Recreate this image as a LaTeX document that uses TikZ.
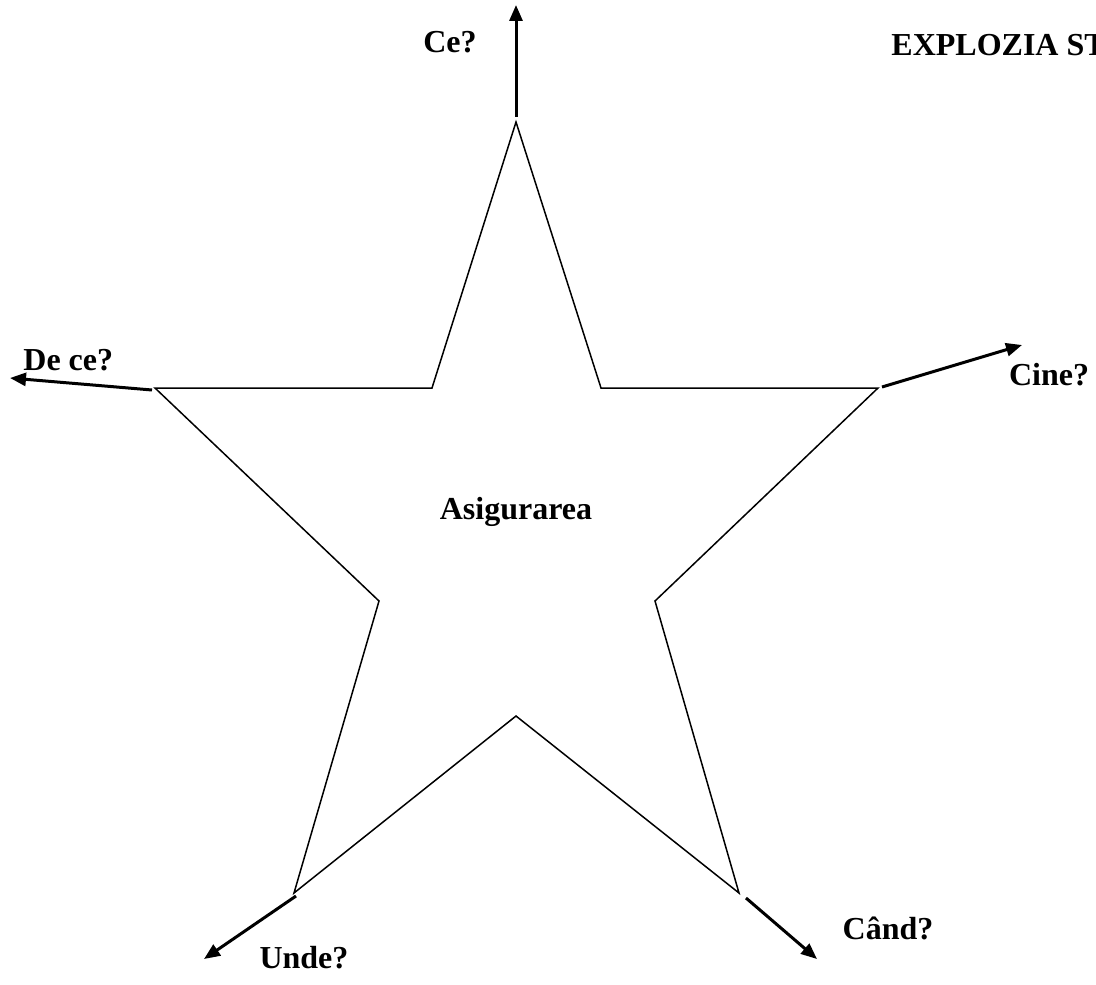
\documentclass[tikz,border=0pt]{standalone}
\usepackage{fontspec}
\setmainfont{Liberation Serif}
\usetikzlibrary{arrows.meta}
\begin{document}
\begin{tikzpicture}[x=0.5pt,y=-0.5pt,
  lbl/.style={font=\fontsize{16}{19}\selectfont\bfseries, inner sep=0pt},
  starline/.style={line width=0.75pt, line join=miter},
  ray/.style={line width=1.5pt, -{Triangle[length=8pt,width=6.5pt]}}]
\useasboundingbox (0,0) rectangle (1096,984);
% star vertices
\coordinate (T) at (516,122);
\coordinate (IR) at (601,388);
\coordinate (R) at (878,388);
\coordinate (LIR) at (655,601);
\coordinate (BR) at (739,893);
\coordinate (B) at (516,716);
\coordinate (BL) at (294,893);
\coordinate (LIL) at (379,601);
\coordinate (L) at (155,388);
\coordinate (IL) at (432,388);
\draw[starline] (T) -- (IR) -- (R) -- (LIR) -- (BR) -- (B) -- (BL) -- (LIL) -- (L) -- (IL) -- cycle;
% ray start points and ends
\coordinate (sT) at (516,117);
\coordinate (eT) at (516,5);
\coordinate (sR) at (882,387);
\coordinate (eR) at (1022,345);
\coordinate (sL) at (152,390);
\coordinate (eL) at (10,378);
\coordinate (sBL) at (296,896);
\coordinate (eBL) at (204,959);
\coordinate (sBR) at (746,898);
\coordinate (eBR) at (817,959);
\draw[ray] (sT) -- (eT);
\draw[ray] (sR) -- (eR);
\draw[ray] (sL) -- (eL);
\draw[ray] (sBL) -- (eBL);
\draw[ray] (sBR) -- (eBR);
% labels
\node[lbl] (ce) at (450,42) {Ce?};
\node[lbl, anchor=west] (title) at (891,45) {EXPLOZIA ST};
\node[lbl, anchor=west] (dece) at (23,360) {De ce?};
\node[lbl] (cine) at (1049,375) {Cine?};
\node[lbl] (center) at (516,512) {Asigurarea};
\node[lbl] (unde) at (304,958) {Unde?};
\node[lbl] (cand) at (888,928) {Când?};
\end{tikzpicture}
\end{document}
